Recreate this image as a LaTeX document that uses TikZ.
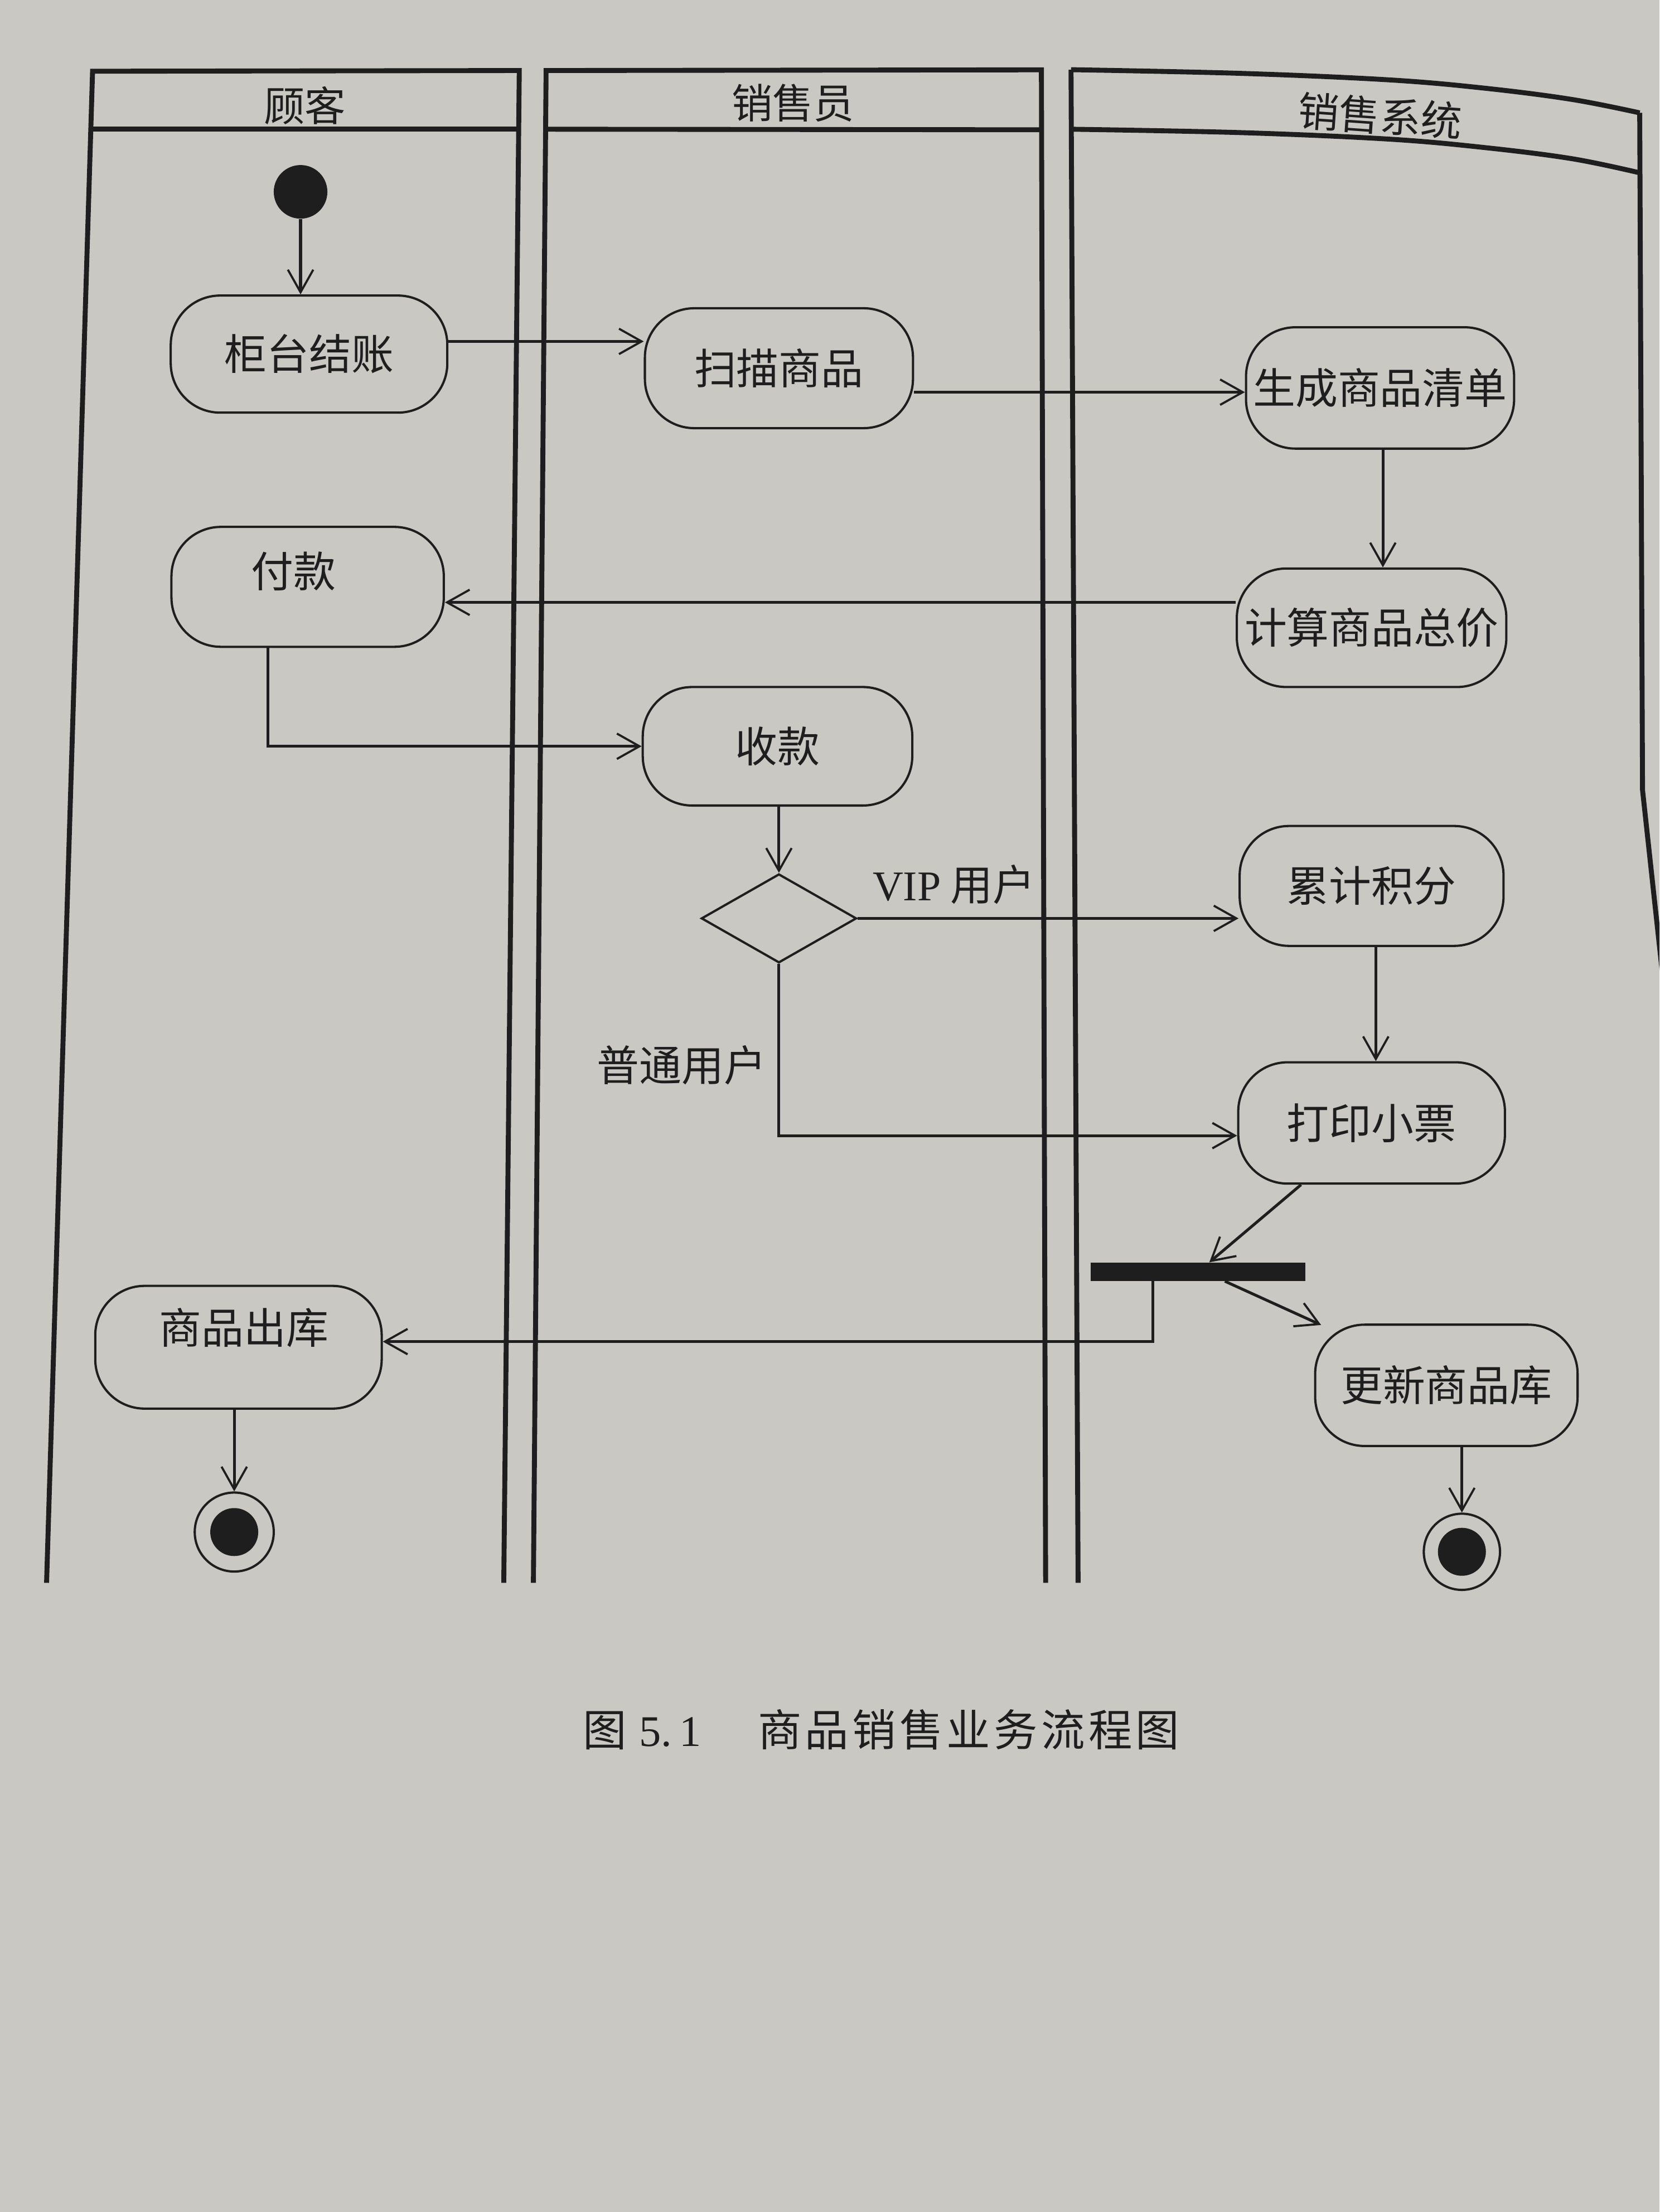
\documentclass[tikz,border=0pt]{standalone}
\usepackage{fontspec}
\setmainfont{Liberation Serif}
\newfontfamily\cjk{Noto Sans CJK SC}
\usetikzlibrary{arrows.meta,shapes.geometric,calc}
\definecolor{paper}{RGB}{201,200,195}
\definecolor{ink}{RGB}{30,30,30}
\begin{document}
\begin{tikzpicture}[x=1pt,y=-1pt,
  act/.style={draw=ink, line width=1.6pt, rounded corners=35pt, inner sep=0pt,
              font=\cjk\fontsize{30}{34}\selectfont, text=ink},
  lbl/.style={font=\cjk\fontsize{30}{34}\selectfont, text=ink, inner sep=0pt},
  hdr/.style={font=\cjk\fontsize{29}{33}\selectfont, text=ink, inner sep=0pt},
  conn/.style={draw=ink, line width=2pt},
  arr/.style={conn, -{Straight Barb[length=16pt,width=18pt,line width=1.5pt]}},
  lane/.style={draw=ink, line width=3.5pt, line join=miter},
  endnode/.style={circle, draw=ink, line width=1.6pt, inner sep=0pt,
                  path picture={\fill[ink] (path picture bounding box.center) circle (17pt);}},
]
\useasboundingbox (0,0) rectangle (1176,1568);
\fill[paper] (0,0) rectangle (1176,1568);

\begin{scope}
\clip (0,0) rectangle (1176,1568);
% lane 1
\draw[lane] (33,1122) -- (65.6,50.5) -- (368,50) -- (357,1122);
\draw[lane] (65,91.5) -- (367,91.5);
% lane 2
\draw[lane] (378,1122) -- (387,50) -- (738,49.5) -- (741,1122);
\draw[lane] (387,91.6) -- (738,92);
% lane 3
\draw[lane] (764,1122) -- (759,49.4);
\draw[lane] plot[smooth, tension=0.6] coordinates {(759,49.4) (879,52) (984,56.6) (1052,62.5) (1114,70.5) (1162,80)};
\draw[lane] plot[smooth, tension=0.6] coordinates {(759,91.6) (879,94) (984,98.6) (1052,104.6) (1114,112.5) (1162,122.5)};
\draw[lane] (1162,80) -- (1164,560) -- (1190,800);
\end{scope}

% headers
\node[hdr] (h1) at (216,75) {顾客};
\node[hdr] (h2) at (562,73) {销售员};
\node[hdr, rotate=-4] (h3) at (978,82) {销售系统};

% nodes
\node[circle, fill=ink, minimum size=38pt, inner sep=0pt] (start) at (213,136) {};
\node[act, minimum width=196pt, minimum height=83pt] (gtjz) at (219,251) {柜台结账};
\node[act, minimum width=190pt, minimum height=85pt] (smsp) at (552,261) {扫描商品};
\node[act, minimum width=190pt, minimum height=86pt] (scqd) at (978,275) {生成商品清单};
\node[act, minimum width=193pt, minimum height=85pt,
      label={[lbl, xshift=-10pt, yshift=11pt]center:付款}] (fk) at (218,416) {};
\node[act, minimum width=191pt, minimum height=84pt] (jszj) at (972,445) {计算商品总价};
\node[act, minimum width=191pt, minimum height=84pt] (sk) at (551,529) {收款};
\node[diamond, draw=ink, line width=1.6pt, minimum width=110pt, minimum height=63pt, inner sep=0pt] (dec) at (552,651) {};
\node[act, minimum width=187pt, minimum height=85pt] (ljjf) at (972,628) {累计积分};
\node[act, minimum width=189pt, minimum height=86pt] (dyxp) at (972,796) {打印小票};
\node[fill=ink, minimum width=152pt, minimum height=13pt, inner sep=0pt] (bar) at (849,901.5) {};
\node[act, minimum width=203pt, minimum height=87pt,
      label={[lbl, xshift=4pt, yshift=14pt]center:商品出库}] (spck) at (169,955) {};
\node[act, minimum width=186pt, minimum height=86pt] (gxk) at (1025,982) {更新商品库};
\node[endnode, minimum size=56pt] (end1) at (166,1086) {};
\node[endnode, minimum size=54pt] (end3) at (1036,1100) {};

% labels
\node[lbl] (vip) at (676,627) {{\rmfamily VIP}\ 用户};
\node[lbl] (pt) at (483,755) {普通用户};

% connectors
\draw[arr] (start.south) -- (gtjz.north -| start);
\draw[arr] (gtjz.east |- 0,242) -- (smsp.west |- 0,242);
\draw[arr] (smsp.east |- 0,278) -- (scqd.west |- 0,278);
\draw[arr] (scqd.south -| 980,0) -- (jszj.north -| 980,0);
\draw[arr] (jszj.west |- 0,427) -- (fk.east |- 0,427);
\draw[arr] (fk.south -| 190,0) |- (sk.west);
\draw[arr] (sk.south -| dec) -- (dec.north);
\draw[arr] (dec.east) -- (dec.east -| ljjf.west);
\draw[arr] (dec.south) |- (dyxp.west |- 0,805);
\draw[arr] (ljjf.south -| 975,0) -- (dyxp.north -| 975,0);
\draw[arr] (dyxp.south -| 922,0) -- (bar.north -| 857,0);
\draw[arr] (bar.south -| 868,0) -- ($(gxk.north west)+(5,1)$);
\draw[arr] (bar.south -| 817,0) |- (spck.east |- 0,951);
\draw[arr] (spck.south -| end1) -- (end1.north);
\draw[arr] (gxk.south -| end3) -- (end3.north);

% caption
\node[text=ink, inner sep=0pt, font=\fontsize{31}{36}\selectfont] (cap) at (624.5,1226)
  {{\cjk 图}\hspace{9pt}5.\,1\hspace{40pt}{\cjk\addfontfeature{LetterSpace=8}商品销售业务流程图}};
\end{tikzpicture}
\end{document}
